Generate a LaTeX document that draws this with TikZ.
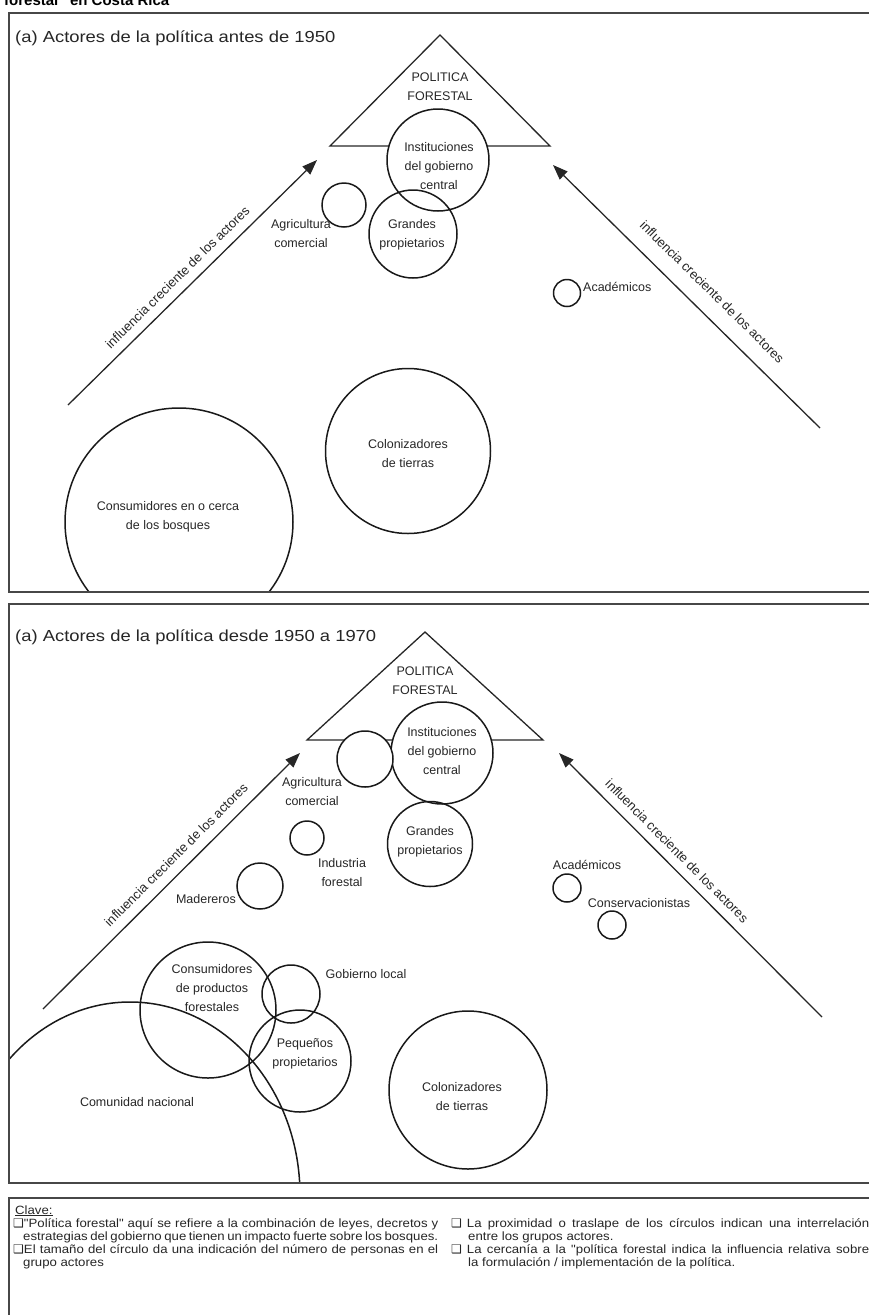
\documentclass[tikz,border=0pt]{standalone}
\usepackage{fontspec}
\setmainfont{Liberation Sans}
\newfontfamily\dejavu{DejaVu Sans}
\newfontfamily\widefont[FakeStretch=1.15]{Liberation Sans}
\newfontfamily\legfamily[FakeStretch=1.1]{Liberation Sans}
\usetikzlibrary{arrows.meta,shapes.geometric}
\newcommand{\keybox}{{\dejavu ❑}}
\begin{document}
\begin{tikzpicture}[x=1pt,y=-1pt,
  frame/.style={draw=black!72, line width=2.4pt},
  actor/.style={circle, draw=black!90, line width=1.5pt, inner sep=0pt},
  lbl/.style={font=\fontsize{12.5}{19}\selectfont, text=black!85, align=center, inner sep=0pt},
  tri/.style={draw=black!85, line width=1.3pt, line join=miter},
  infl/.style={draw=black!85, line width=1.3pt, -{Triangle[length=15pt,width=11pt]}},
  infltext/.style={font=\fontsize{13}{13}\selectfont, text=black!85, sloped, inner sep=0pt},
  ttl/.style={font=\widefont\fontsize{16}{19}\selectfont, anchor=west, inner sep=0pt, text=black!85},
  legtext/.style={font=\legfamily\fontsize{12}{13.3}\selectfont, text=black!85, inner sep=0pt, anchor=base west},
]
\useasboundingbox (0,0) rectangle (868,1315);

\node[anchor=base west, font=\bfseries\fontsize{15}{15}\selectfont, inner sep=0pt] (fig) at (4,5) {forestal" en Costa Rica};

% ---------------- Panel 1 ----------------
\begin{scope}
\clip (9,13) rectangle (880,592);
\node[ttl] (t1) at (15,38) {(a) Actores de la política antes de 1950};
\coordinate (p1a) at (440,35);
\coordinate (p1b) at (330,146);
\coordinate (p1c) at (550,146);
\draw[tri] (p1a) -- (p1b) -- (p1c) -- cycle;
\node[lbl] (pf1) at (440,87) {POLITICA\\FORESTAL};
\node[actor, fill=white, minimum size=102pt] (inst1) at (438,160) {};
\node[actor, minimum size=88pt] (gran1) at (413,234) {};
\node[actor, minimum size=44pt] (agri1) at (344,205) {};
\node[actor, minimum size=27pt] (acad1) at (567,293) {};
\node[actor, minimum size=165pt] (colo1) at (408,451) {};
\node[actor, minimum size=228pt] (cons1) at (179,522) {};
\node[lbl] (inst1t) at (439,166) {Instituciones\\del gobierno\\central};
\node[lbl] (gran1t) at (412,235) {Grandes\\propietarios};
\node[lbl] (agri1t) at (301,234) {Agricultura\\comercial};
\node[lbl, anchor=west] (acad1t) at (583,287) {Académicos};
\node[lbl] (colo1t) at (408,454) {Colonizadores\\de tierras};
\node[lbl] (cons1t) at (168,517) {Consumidores en o cerca\\de los bosques};
\coordinate (l1s) at (68,405);
\coordinate (l1e) at (317,160);
\draw[infl] (l1s) -- node[infltext, pos=0.48, above=9pt] {influencia creciente de los actores} (l1e);
\coordinate (r1s) at (820,428);
\coordinate (r1e) at (553,165);
\draw[infl] (r1s) -- node[infltext, pos=0.46, above=16pt] {influencia creciente de los actores} (r1e);
\end{scope}
\draw[frame] (9,13) rectangle (880,592);

% ---------------- Panel 2 ----------------
\begin{scope}
\clip (9,604) rectangle (880,1183);
\node[ttl] (t2) at (15,637) {(a) Actores de la política desde 1950 a 1970};
\coordinate (p2a) at (425,632);
\coordinate (p2b) at (307,740);
\coordinate (p2c) at (543,740);
\draw[tri] (p2a) -- (p2b) -- (p2c) -- cycle;
\node[lbl] (pf2) at (425,681) {POLITICA\\FORESTAL};
\node[actor, fill=white, minimum size=102pt] (inst2) at (442,753) {};
\node[actor, fill=white, minimum size=56pt] (agri2) at (365,759) {};
\node[actor, minimum size=85pt] (gran2) at (430,844) {};
\node[actor, minimum size=34pt] (indu2) at (307,838) {};
\node[actor, minimum size=46pt] (made2) at (260,886) {};
\node[actor, minimum size=136pt] (cons2) at (208,1010) {};
\node[actor, minimum size=58pt] (gobl2) at (291,994) {};
\node[actor, minimum size=102pt] (pequ2) at (300,1061) {};
\node[actor, minimum size=158pt] (colo2) at (468,1090) {};
\node[actor, minimum size=28pt] (acad2) at (567,888) {};
\node[actor, minimum size=28pt] (cons2b) at (612,925) {};
\node[ellipse, draw=black!90, line width=1.5pt, inner sep=0pt, minimum width=340pt, minimum height=386pt] (comu2) at (130,1195) {};
\node[lbl] (inst2t) at (442,751) {Instituciones\\del gobierno\\central};
\node[lbl] (agri2t) at (312,792) {Agricultura\\comercial};
\node[lbl] (gran2t) at (430,842) {Grandes\\propietarios};
\node[lbl] (indu2t) at (342,873) {Industria\\forestal};
\node[lbl, anchor=east] (made2t) at (236,899) {Madereros};
\node[lbl] (cons2t) at (212,988) {Consumidores\\de productos\\forestales};
\node[lbl] (gobl2t) at (366,974) {Gobierno local};
\node[lbl] (pequ2t) at (305,1054) {Pequeños\\propietarios};
\node[lbl] (colo2t) at (462,1097) {Colonizadores\\de tierras};
\node[lbl] (comu2t) at (137,1102) {Comunidad nacional};
\node[lbl] (acad2t) at (587,865) {Académicos};
\node[lbl] (cons2bt) at (639,903) {Conservacionistas};
\coordinate (l2s) at (43,1009);
\coordinate (l2e) at (300,753);
\draw[infl] (l2s) -- node[infltext, pos=0.56, above=10pt] {influencia creciente de los actores} (l2e);
\coordinate (r2s) at (822,1017);
\coordinate (r2e) at (559,753);
\draw[infl] (r2s) -- node[infltext, pos=0.59, above=9pt] {influencia creciente de los actores} (r2e);
\end{scope}
\draw[frame] (9,604) rectangle (880,1183);

% ---------------- Panel 3 (key) ----------------
\draw[frame] (9,1198) rectangle (880,1340);
\node[legtext] (clave) at (15,1214) {\underline{Clave:}};
\node[legtext] (keyl) at (13,1227) {\parbox[t]{425pt}{\tolerance=10000\setlength{\parindent}{0pt}%
\hangindent=10pt\hangafter=1 \keybox"Política forestal" aquí se refiere a la combinación de leyes, decretos y\linebreak estrategias del gobierno que tienen un impacto fuerte sobre los bosques.\par
\hangindent=10pt\hangafter=1 \keybox El tamaño del círculo da una indicación del número de personas en el\linebreak grupo actores\par}};
\node[legtext] (keyr) at (451,1227) {\parbox[t]{418pt}{\tolerance=10000\setlength{\parindent}{0pt}%
\hangindent=17pt\hangafter=1 \keybox\hspace{5pt}La proximidad o traslape de los círculos indican una interrelación\linebreak entre los grupos actores.\par
\hangindent=17pt\hangafter=1 \keybox\hspace{5pt}La cercanía a la "política forestal indica la influencia relativa sobre\linebreak la formulación / implementación de la política.\par}};
\end{tikzpicture}
\end{document}
